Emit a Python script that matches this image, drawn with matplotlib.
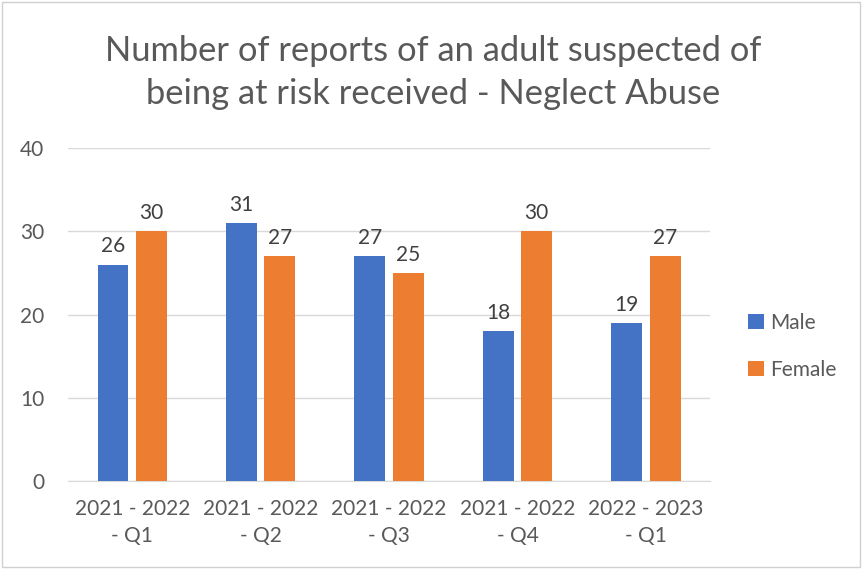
import numpy as np
import matplotlib
matplotlib.use("Agg")
import matplotlib.pyplot as plt
from matplotlib.patches import Rectangle

quarters = ["2021 - 2022\n- Q1", "2021 - 2022\n- Q2", "2021 - 2022\n- Q3",
            "2021 - 2022\n- Q4", "2022 - 2023\n- Q1"]
male = [26, 31, 27, 18, 19]
female = [30, 27, 25, 30, 27]

BLUE = "#4472C4"
ORANGE = "#ED7D31"
GREY_TXT = "#595959"
plt.rcParams["font.family"] = ["Lato", "DejaVu Sans"]

fig = plt.figure(figsize=(8.63, 5.69), dpi=100)
ax = fig.add_axes([0.0788, 0.1547, 0.744, 0.585])

x = np.arange(len(quarters))
w = 0.24
off = 0.15
b1 = ax.bar(x - off, male, w, color=BLUE, label="Male", zorder=3)
b2 = ax.bar(x + off, female, w, color=ORANGE, label="Female", zorder=3)
for bars in (b1, b2):
    ax.bar_label(bars, padding=6, fontsize=15, color="#404040")

ax.set_xlim(-0.5, len(quarters) - 0.5)
ax.set_ylim(0, 40)
ax.set_yticks([0, 10, 20, 30, 40])
ax.set_xticks(x)
ax.set_xticklabels(quarters, fontsize=15, color=GREY_TXT, linespacing=1.45)
ax.tick_params(axis="y", labelsize=15, labelcolor=GREY_TXT, length=0, pad=17)
ax.tick_params(axis="x", length=0, pad=13)
ax.grid(axis="y", color="#D9D9D9", linewidth=1, zorder=0)
for s in ("top", "right", "left"):
    ax.spines[s].set_visible(False)
ax.spines["bottom"].set_color("#D9D9D9")

fig.text(0.502, 0.873, "Number of reports of an adult suspected of\nbeing at risk received - Neglect Abuse",
         ha="center", va="center", fontsize=24.8, color=GREY_TXT, linespacing=1.42)

ax.legend(loc="center left", bbox_to_anchor=(1.03, 0.405), frameon=False,
          fontsize=15, labelcolor=GREY_TXT, handlelength=0.75, handleheight=0.75,
          labelspacing=1.3, handletextpad=0.3)

fig.patches.append(Rectangle((0.002, 0.003), 0.995, 0.994, transform=fig.transFigure,
                             fill=False, edgecolor="#D0D0D0", linewidth=1))

fig.savefig("out.png", dpi=100)
